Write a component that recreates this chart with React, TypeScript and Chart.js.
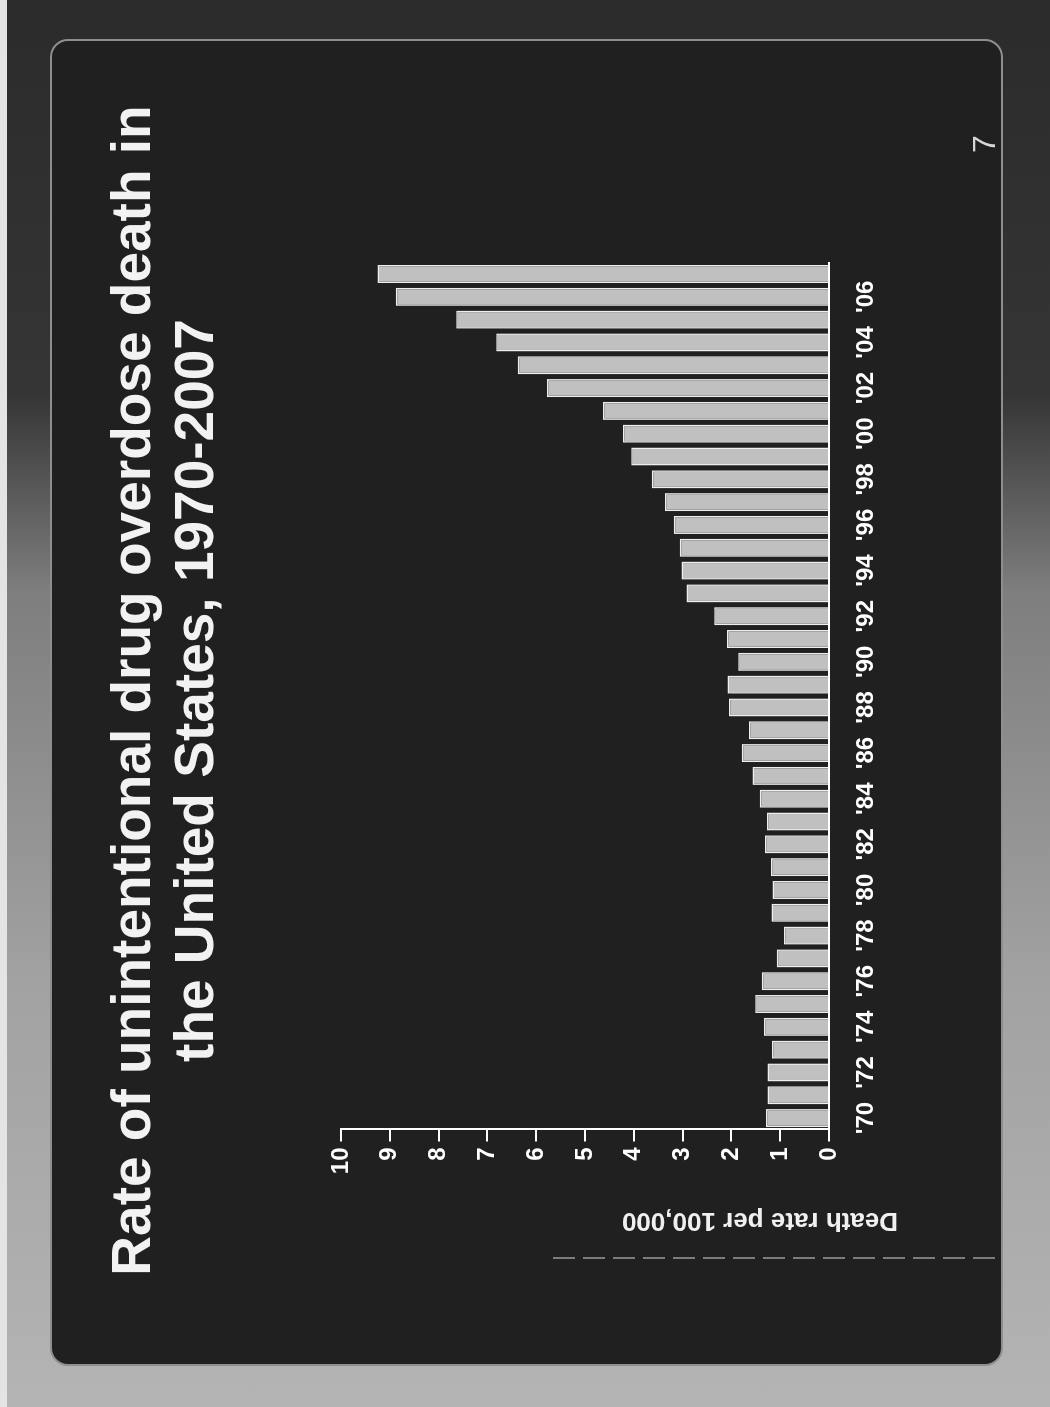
import { useEffect, useRef } from "react";
import { Chart, registerables } from "chart.js";

Chart.register(...registerables);

// Unintentional drug overdose death rate per 100,000, United States
const years = [
  "1970", "1971", "1972", "1973", "1974", "1975", "1976", "1977", "1978", "1979",
  "1980", "1981", "1982", "1983", "1984", "1985", "1986", "1987", "1988", "1989",
  "1990", "1991", "1992", "1993", "1994", "1995", "1996", "1997", "1998", "1999",
  "2000", "2001", "2002", "2003", "2004", "2005", "2006", "2007",
];

const deathRates = [
  1.29, 1.26, 1.26, 1.17, 1.33, 1.51, 1.38, 1.07, 0.92, 1.18,
  1.16, 1.19, 1.31, 1.27, 1.42, 1.57, 1.79, 1.64, 2.05, 2.08,
  1.86, 2.09, 2.35, 2.92, 3.02, 3.06, 3.18, 3.36, 3.63, 4.05,
  4.22, 4.63, 5.78, 6.38, 6.82, 7.64, 8.88, 9.25,
];

const yearTickLabels = [
  "'70", "", "'72", "", "'74", "", "'76", "", "'78", "",
  "'80", "", "'82", "", "'84", "", "'86", "", "'88", "",
  "'90", "", "'92", "", "'94", "", "'96", "", "'98", "",
  "'00", "", "'02", "", "'04", "", "'06", "",
];

const titleLines = [
  "Rate of unintentional drug overdose death in",
  "the United States, 1970-2007",
];
const valueAxisTitle = "Death rate per 100,000";
const slideNumber = "7";

const FONT = '"Liberation Sans", Arial, Helvetica, sans-serif';
const SLIDE_W = 1407;
const SLIDE_H = 1050;

// Slide title, rotated axis title and slide number drawn onto the chart canvas
const slideText = {
  id: "slideText",
  afterDraw(chart: any) {
    const { ctx, chartArea } = chart;
    const yScale = chart.scales.y;

    ctx.save();
    ctx.fillStyle = "#f2f2f2";
    ctx.font = `bold 55px ${FONT}`;
    ctx.textAlign = "center";
    ctx.textBaseline = "alphabetic";
    ctx.fillText(titleLines[0], 716.5, 150);
    ctx.fillText(titleLines[1], 716.5, 213);
    ctx.restore();

    ctx.save();
    ctx.fillStyle = "#f0f0f0";
    ctx.font = `bold 26px ${FONT}`;
    ctx.translate(yScale.left + 44, chartArea.bottom + 69);
    ctx.rotate(-Math.PI / 2);
    ctx.textAlign = "left";
    ctx.textBaseline = "alphabetic";
    ctx.fillText(valueAxisTitle, 0, 0);
    ctx.restore();

    ctx.save();
    ctx.fillStyle = "#d6d6d6";
    ctx.font = `32px ${FONT}`;
    ctx.textAlign = "left";
    ctx.textBaseline = "alphabetic";
    ctx.fillText(slideNumber, 1254, 995);
    ctx.restore();
  },
};

export default function App() {
  const canvasRef = useRef<HTMLCanvasElement | null>(null);

  useEffect(() => {
    if (!canvasRef.current) return;
    Chart.defaults.font.family = FONT;
    const chart = new Chart(canvasRef.current, {
      type: "bar",
      data: {
        labels: years,
        datasets: [
          {
            data: deathRates,
            backgroundColor: "#c0c0c0",
            borderColor: "#eeeeee",
            borderWidth: 1.5,
            barPercentage: 0.79,
            categoryPercentage: 1,
          },
        ],
      },
      options: {
        responsive: false,
        animation: false,
        devicePixelRatio: 1,
        layout: { padding: { left: 150, right: 262.6, top: 341, bottom: 0 } },
        plugins: {
          legend: { display: false },
          tooltip: { enabled: false },
          title: { display: false },
        },
        scales: {
          x: {
            afterFit: (scale: any) => {
              scale.height = 221;
            },
            grid: { display: false, drawTicks: false },
            border: { display: true, color: "#ffffff", width: 2 },
            ticks: {
              autoSkip: false,
              maxRotation: 0,
              minRotation: 0,
              padding: 22.5,
              color: "#ffffff",
              font: { size: 24, weight: "bold" },
              callback: (_v: any, i: number) => yearTickLabels[i],
            },
          },
          y: {
            min: 0,
            max: 10,
            afterFit: (scale: any) => {
              scale.width = 127.5;
            },
            grid: {
              drawOnChartArea: false,
              drawTicks: true,
              tickLength: 12,
              color: "#ffffff",
              lineWidth: 2,
            },
            border: { display: true, color: "#ffffff", width: 2 },
            ticks: {
              stepSize: 1,
              padding: 6,
              color: "#ffffff",
              font: { size: 24, weight: "bold" },
            },
          },
        },
      },
      plugins: [slideText],
    });
    return () => chart.destroy();
  }, []);

  return (
    <div
      style={{
        position: "fixed",
        left: 0,
        top: 0,
        width: 1050,
        height: 1407,
        overflow: "hidden",
        background:
          "linear-gradient(to bottom, #2b2b2b 0%, #353535 28%, #7e7e7e 42%, #a2a2a2 70%, #b4b4b4 100%)",
      }}
    >
      <div
        style={{
          position: "absolute",
          left: 0,
          top: 0,
          width: 7,
          height: 1407,
          background: "#e4e4e4",
        }}
      />
      <div
        style={{
          position: "absolute",
          left: 0,
          top: 0,
          width: SLIDE_W,
          height: SLIDE_H,
          transformOrigin: "0 0",
          transform: `translateY(${SLIDE_W}px) rotate(-90deg)`,
        }}
      >
        <div
          style={{
            position: "absolute",
            left: 41,
            top: 50,
            width: 1327,
            height: 953,
            boxSizing: "border-box",
            borderRadius: 18,
            border: "2px solid #8e8e8e",
            background: "#202020",
          }}
        />
        <div
          style={{
            position: "absolute",
            left: 148,
            top: 553,
            width: 2,
            height: 450,
            background:
              "repeating-linear-gradient(to bottom, #7c7c7c 0px, #7c7c7c 22px, transparent 22px, transparent 30px)",
          }}
        />
        <canvas
          ref={canvasRef}
          width={SLIDE_W}
          height={SLIDE_H}
          style={{ position: "absolute", left: 0, top: 0, width: SLIDE_W, height: SLIDE_H }}
        />
      </div>
    </div>
  );
}
